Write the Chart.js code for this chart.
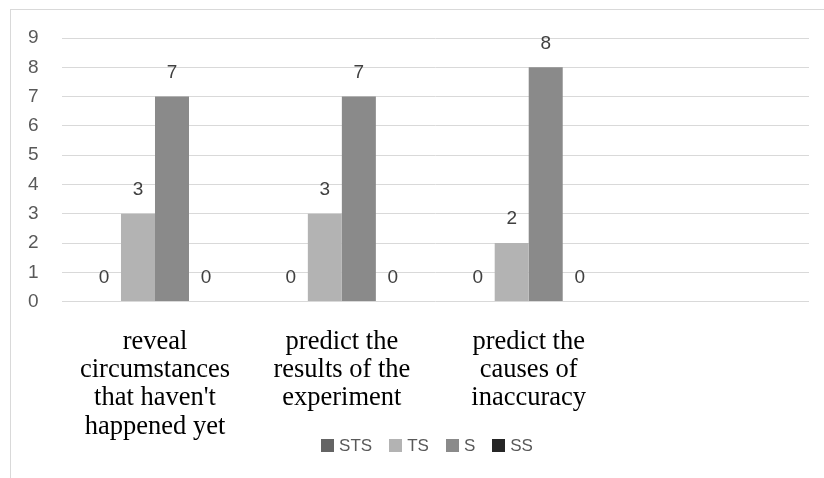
<!DOCTYPE html>
<html>
<head>
<meta charset="utf-8">
<script src="https://cdn.jsdelivr.net/npm/chart.js@4/dist/chart.umd.min.js"></script>
<style>
  html, body { margin: 0; padding: 0; background: #ffffff; }
  #wrap { width: 824px; height: 478px; }
</style>
</head>
<body>
<div id="wrap"><canvas id="c" width="824" height="478"></canvas></div>
<script>
// Survey items (the fourth slot is left empty on the axis)
const categories = [
  ['reveal', 'circumstances', "that haven't", 'happened yet'],
  ['predict the', 'results of the', 'experiment'],
  ['predict the', 'causes of', 'inaccuracy'],
  ''
];
const seriesNames = ['STS', 'TS', 'S', 'SS'];
const stsValues = [0, 0, 0];
const tsValues  = [3, 3, 2];
const sValues   = [7, 7, 8];
const ssValues  = [0, 0, 0];
const yTickValues = [0, 1, 2, 3, 4, 5, 6, 7, 8, 9];

const seriesColors = ['#646464', '#b3b3b3', '#8a8a8a', '#262626'];
const seriesValues = [stsValues, tsValues, sValues, ssValues];

const sansFont = '"Liberation Sans", Arial, sans-serif';
const serifFont = '"Liberation Serif", "Times New Roman", serif';

// White page with the thin grey outer frame
const frame = {
  id: 'frame',
  beforeDraw(chart) {
    const ctx = chart.ctx;
    ctx.save();
    ctx.fillStyle = '#ffffff';
    ctx.fillRect(0, 0, chart.width, chart.height);
    ctx.strokeStyle = '#d9d9d9';
    ctx.lineWidth = 1;
    ctx.strokeRect(10.5, 9.5, chart.width + 20, chart.height + 20);
    ctx.restore();
  }
};

// Value printed above every bar
const valueLabels = {
  id: 'valueLabels',
  afterDatasetsDraw(chart) {
    const ctx = chart.ctx;
    ctx.save();
    ctx.font = '19px ' + sansFont;
    ctx.fillStyle = '#404040';
    ctx.textAlign = 'center';
    ctx.textBaseline = 'middle';
    chart.data.datasets.forEach((ds, i) => {
      chart.getDatasetMeta(i).data.forEach((bar, j) => {
        ctx.fillText(String(ds.data[j]), bar.x, bar.y - 24);
      });
    });
    ctx.restore();
  }
};

// Legend row drawn under the category labels
const bottomLegend = {
  id: 'bottomLegend',
  afterDraw(chart, args, opts) {
    const ctx = chart.ctx;
    ctx.save();
    ctx.font = opts.font;
    const items = chart.data.datasets.map(ds => ({
      text: ds.label,
      color: ds.backgroundColor,
      w: ctx.measureText(ds.label).width
    }));
    const total = items.reduce((s, it) => s + opts.box + opts.gap + it.w, 0) + opts.spacing * (items.length - 1);
    let x = opts.centerX - total / 2;
    ctx.textBaseline = 'middle';
    ctx.textAlign = 'left';
    items.forEach(it => {
      ctx.fillStyle = it.color;
      ctx.fillRect(Math.round(x), Math.round(opts.centerY - opts.box / 2), opts.box, opts.box);
      x += opts.box + opts.gap;
      ctx.fillStyle = opts.color;
      ctx.fillText(it.text, x, opts.centerY + 1);
      x += it.w + opts.spacing;
    });
    ctx.restore();
  }
};

new Chart(document.getElementById('c'), {
  type: 'bar',
  data: {
    labels: categories,
    datasets: seriesNames.map((name, i) => ({
      label: name,
      data: seriesValues[i],
      backgroundColor: seriesColors[i],
      borderWidth: 0,
      categoryPercentage: 0.728,
      barPercentage: 1.0
    }))
  },
  options: {
    responsive: false,
    animation: false,
    devicePixelRatio: 1,
    layout: { padding: { left: 5, right: 15, top: 38, bottom: 11 } },
    plugins: {
      legend: { display: false },
      tooltip: { enabled: false },
      bottomLegend: {
        font: '17px ' + sansFont,
        color: '#595959',
        centerX: 427,
        centerY: 445,
        box: 13,
        gap: 5,
        spacing: 17
      }
    },
    scales: {
      x: {
        grid: { display: false, drawTicks: false },
        border: { display: false },
        ticks: {
          color: '#000000',
          font: { family: serifFont, size: 26.5, lineHeight: 1.07 },
          padding: 26,
          maxRotation: 0,
          minRotation: 0,
          autoSkip: false
        }
      },
      y: {
        min: 0,
        max: 9,
        afterBuildTicks(axis) {
          axis.ticks = yTickValues.map(v => ({ value: v }));
        },
        grid: { color: '#d9d9d9', lineWidth: 1, drawTicks: false },
        border: { display: false },
        ticks: {
          color: '#595959',
          font: { family: sansFont, size: 19 },
          padding: 23
        }
      }
    }
  },
  plugins: [frame, valueLabels, bottomLegend]
});
</script>
</body>
</html>
